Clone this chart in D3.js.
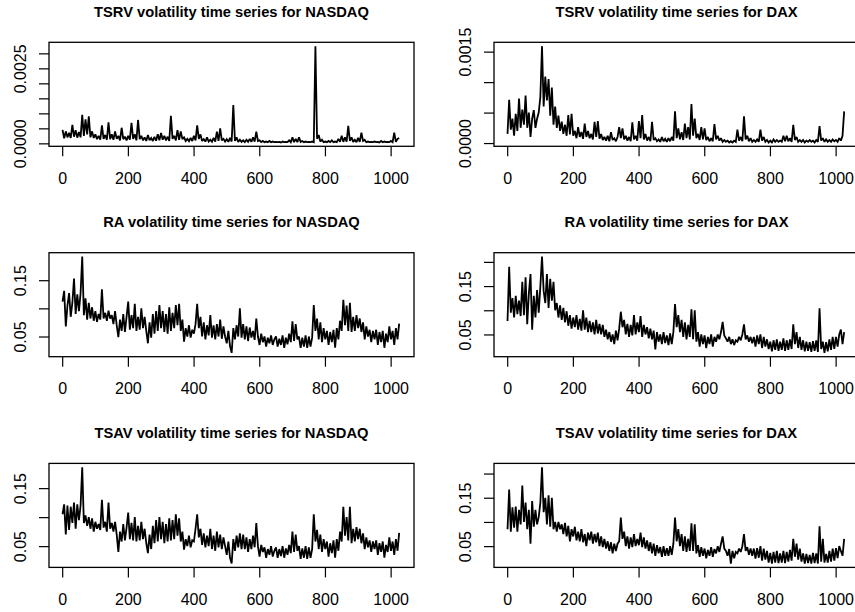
<!DOCTYPE html>
<html>
<head>
<meta charset="utf-8">
<script src="https://cdn.jsdelivr.net/npm/d3@7"></script>
<style>
  body { margin: 0; background: #fff; }
  svg { display: block; font-family: "Liberation Sans", Arial, Helvetica, sans-serif; }
</style>
</head>
<body>
<svg id="chart" width="855" height="612"></svg>
<script>
// length of the original series; values below are read every 5th observation
var nObs = 1030;
var step = 5;

var xTicks = [0, 200, 400, 600, 800, 1000];

// TSRV, NASDAQ
var tsrvNasdaq = [
  45e-5,17e-5,40e-5,20e-5,35e-5,18e-5,62e-5,22e-5,44e-5,19e-5,
  38e-5,20e-5,95e-5,25e-5,80e-5,30e-5,90e-5,20e-5,40e-5,18e-5,
  30e-5,14e-5,25e-5,12e-5,60e-5,15e-5,28e-5,12e-5,70e-5,14e-5,
  30e-5,12e-5,40e-5,15e-5,25e-5,10e-5,52e-5,14e-5,22e-5,10e-5,
  25e-5,12e-5,68e-5,15e-5,30e-5,10e-5,78e-5,14e-5,25e-5,10e-5,
  20e-5,8e-5,28e-5,10e-5,18e-5,8e-5,22e-5,9e-5,30e-5,10e-5,
  35e-5,12e-5,25e-5,10e-5,22e-5,8e-5,92e-5,15e-5,25e-5,10e-5,
  44e-5,12e-5,40e-5,14e-5,20e-5,8e-5,15e-5,7e-5,18e-5,8e-5,
  25e-5,10e-5,60e-5,15e-5,30e-5,8e-5,14e-5,6e-5,20e-5,6e-5,
  12e-5,5e-5,18e-5,6e-5,39e-5,8e-5,50e-5,10e-5,15e-5,6e-5,
  14e-5,5e-5,18e-5,6e-5,128e-5,8e-5,20e-5,5e-5,12e-5,5e-5,
  10e-5,4e-5,12e-5,5e-5,15e-5,5e-5,20e-5,6e-5,39e-5,8e-5,
  10e-5,4e-5,8e-5,4e-5,6e-5,4e-5,8e-5,4e-5,6e-5,4e-5,
  5e-5,4e-5,5e-5,3e-5,6e-5,4e-5,5e-5,4e-5,10e-5,4e-5,
  20e-5,4e-5,15e-5,4e-5,20e-5,5e-5,8e-5,4e-5,6e-5,4e-5,
  5e-5,4e-5,6e-5,4e-5,324e-5,15e-5,28e-5,6e-5,12e-5,4e-5,
  6e-5,4e-5,8e-5,4e-5,10e-5,4e-5,6e-5,4e-5,15e-5,5e-5,
  25e-5,5e-5,20e-5,6e-5,58e-5,8e-5,20e-5,5e-5,12e-5,4e-5,
  18e-5,5e-5,36e-5,8e-5,12e-5,4e-5,6e-5,4e-5,5e-5,4e-5,
  6e-5,4e-5,5e-5,3e-5,8e-5,4e-5,6e-5,4e-5,5e-5,4e-5,
  8e-5,4e-5,36e-5,5e-5,15e-5,18e-5
];

// TSRV, DAX
var tsrvDax = [
  15e-5,71e-5,22e-5,40e-5,12e-5,48e-5,20e-5,73e-5,25e-5,55e-5,
  30e-5,78e-5,25e-5,50e-5,10e-5,40e-5,54e-5,25e-5,40e-5,50e-5,
  76e-5,159e-5,60e-5,109e-5,70e-5,105e-5,45e-5,91e-5,30e-5,60e-5,
  25e-5,45e-5,20e-5,35e-5,15e-5,30e-5,12e-5,46e-5,14e-5,48e-5,
  12e-5,20e-5,8e-5,26e-5,10e-5,18e-5,7e-5,32e-5,10e-5,20e-5,
  8e-5,15e-5,6e-5,35e-5,10e-5,36e-5,7e-5,15e-5,5e-5,10e-5,
  4e-5,12e-5,3e-5,18e-5,5e-5,8e-5,3e-5,10e-5,26e-5,8e-5,
  24e-5,6e-5,12e-5,4e-5,10e-5,3e-5,34e-5,6e-5,12e-5,4e-5,
  36e-5,8e-5,46e-5,6e-5,15e-5,4e-5,10e-5,3e-5,35e-5,5e-5,
  8e-5,3e-5,6e-5,2e-5,10e-5,3e-5,7e-5,2e-5,8e-5,3e-5,
  10e-5,4e-5,52e-5,8e-5,24e-5,6e-5,18e-5,5e-5,32e-5,8e-5,
  26e-5,6e-5,64e-5,12e-5,40e-5,8e-5,15e-5,5e-5,26e-5,6e-5,
  24e-5,5e-5,10e-5,3e-5,8e-5,3e-5,31e-5,6e-5,12e-5,4e-5,
  8e-5,2e-5,5e-5,2e-5,4e-5,1e-5,3e-5,1e-5,4e-5,2e-5,
  22e-5,4e-5,10e-5,3e-5,44e-5,6e-5,12e-5,3e-5,8e-5,2e-5,
  5e-5,2e-5,6e-5,2e-5,22e-5,4e-5,10e-5,2e-5,5e-5,1e-5,
  4e-5,1e-5,6e-5,2e-5,5e-5,2e-5,4e-5,2e-5,12e-5,3e-5,
  12e-5,3e-5,8e-5,2e-5,30e-5,5e-5,10e-5,2e-5,5e-5,2e-5,
  5e-5,1e-5,4e-5,2e-5,5e-5,2e-5,4e-5,1e-5,5e-5,2e-5,
  28e-5,4e-5,8e-5,2e-5,6e-5,2e-5,5e-5,2e-5,6e-5,3e-5,
  5e-5,2e-5,8e-5,4e-5,12e-5,52e-5
];

// RA, NASDAQ
var raNasdaq = [
  0.112,0.131,0.068,0.105,0.127,0.085,0.110,0.153,0.090,0.125,
  0.095,0.127,0.192,0.088,0.118,0.080,0.110,0.082,0.102,0.078,
  0.095,0.076,0.090,0.080,0.134,0.082,0.092,0.078,0.096,0.082,
  0.088,0.072,0.095,0.070,0.049,0.080,0.060,0.090,0.058,0.085,
  0.112,0.062,0.088,0.065,0.108,0.060,0.085,0.062,0.100,0.065,
  0.085,0.060,0.038,0.075,0.048,0.090,0.055,0.095,0.060,0.106,
  0.065,0.095,0.058,0.090,0.055,0.102,0.060,0.092,0.065,0.106,
  0.070,0.108,0.060,0.080,0.041,0.065,0.050,0.070,0.048,0.062,
  0.055,0.072,0.108,0.065,0.085,0.050,0.075,0.045,0.070,0.052,
  0.088,0.048,0.070,0.045,0.072,0.050,0.080,0.046,0.068,0.050,
  0.038,0.060,0.033,0.021,0.065,0.045,0.070,0.050,0.100,0.048,
  0.072,0.045,0.068,0.042,0.066,0.048,0.060,0.044,0.082,0.050,
  0.035,0.055,0.040,0.050,0.032,0.048,0.038,0.052,0.035,0.045,
  0.050,0.032,0.046,0.035,0.052,0.030,0.048,0.036,0.055,0.040,
  0.077,0.042,0.072,0.045,0.050,0.030,0.048,0.032,0.052,0.030,
  0.050,0.032,0.048,0.106,0.060,0.082,0.045,0.075,0.040,0.065,
  0.045,0.060,0.035,0.058,0.040,0.062,0.030,0.065,0.045,0.078,
  0.060,0.115,0.070,0.105,0.060,0.110,0.058,0.085,0.060,0.088,
  0.065,0.082,0.058,0.075,0.045,0.068,0.050,0.062,0.040,0.060,
  0.045,0.062,0.035,0.058,0.040,0.060,0.030,0.055,0.040,0.068,
  0.045,0.060,0.035,0.065,0.045,0.073
];

// RA, DAX
var raDax = [
  0.078,0.190,0.095,0.125,0.085,0.130,0.092,0.120,0.088,0.159,
  0.090,0.168,0.071,0.135,0.175,0.060,0.130,0.085,0.142,0.095,
  0.150,0.211,0.140,0.115,0.175,0.105,0.165,0.120,0.159,0.100,
  0.115,0.085,0.110,0.080,0.105,0.075,0.098,0.068,0.090,0.062,
  0.085,0.065,0.090,0.060,0.082,0.058,0.100,0.060,0.085,0.055,
  0.078,0.055,0.075,0.050,0.080,0.052,0.072,0.050,0.070,0.045,
  0.060,0.040,0.055,0.035,0.050,0.030,0.058,0.038,0.062,0.097,
  0.065,0.080,0.050,0.072,0.045,0.070,0.048,0.090,0.050,0.075,
  0.055,0.088,0.045,0.070,0.050,0.065,0.042,0.062,0.040,0.058,
  0.019,0.055,0.035,0.050,0.030,0.055,0.032,0.048,0.028,0.052,
  0.030,0.055,0.113,0.065,0.090,0.055,0.080,0.045,0.075,0.040,
  0.070,0.045,0.102,0.040,0.100,0.035,0.055,0.025,0.050,0.030,
  0.048,0.022,0.045,0.030,0.050,0.025,0.045,0.035,0.050,0.040,
  0.055,0.076,0.048,0.042,0.035,0.045,0.030,0.040,0.028,0.038,
  0.035,0.045,0.038,0.050,0.071,0.040,0.048,0.035,0.045,0.032,
  0.045,0.025,0.048,0.030,0.050,0.022,0.045,0.025,0.040,0.020,
  0.035,0.015,0.038,0.018,0.040,0.016,0.035,0.018,0.042,0.016,
  0.038,0.018,0.040,0.020,0.071,0.030,0.055,0.022,0.045,0.018,
  0.038,0.015,0.035,0.016,0.034,0.014,0.036,0.016,0.038,0.014,
  0.104,0.020,0.035,0.012,0.034,0.015,0.040,0.018,0.045,0.020,
  0.045,0.025,0.050,0.060,0.030,0.055
];

// TSAV, NASDAQ
var tsavNasdaq = [
  0.105,0.122,0.070,0.120,0.078,0.118,0.090,0.125,0.080,0.122,
  0.095,0.120,0.186,0.090,0.103,0.085,0.100,0.080,0.098,0.075,
  0.092,0.080,0.088,0.078,0.130,0.082,0.092,0.075,0.125,0.080,
  0.090,0.075,0.092,0.070,0.040,0.075,0.058,0.088,0.060,0.082,
  0.108,0.062,0.090,0.060,0.100,0.058,0.085,0.060,0.092,0.062,
  0.080,0.055,0.038,0.070,0.045,0.085,0.055,0.095,0.058,0.100,
  0.062,0.092,0.055,0.088,0.058,0.098,0.060,0.095,0.062,0.105,
  0.068,0.098,0.058,0.075,0.044,0.062,0.050,0.068,0.048,0.060,
  0.058,0.080,0.105,0.065,0.080,0.052,0.072,0.048,0.068,0.050,
  0.080,0.045,0.068,0.042,0.075,0.048,0.070,0.045,0.065,0.050,
  0.035,0.058,0.030,0.020,0.062,0.042,0.068,0.048,0.072,0.045,
  0.070,0.045,0.065,0.040,0.062,0.045,0.068,0.048,0.090,0.050,
  0.032,0.052,0.040,0.048,0.030,0.045,0.035,0.050,0.032,0.042,
  0.048,0.030,0.045,0.033,0.050,0.030,0.046,0.035,0.052,0.038,
  0.075,0.040,0.070,0.042,0.050,0.028,0.046,0.030,0.050,0.028,
  0.048,0.030,0.045,0.105,0.058,0.078,0.045,0.070,0.040,0.062,
  0.045,0.058,0.032,0.055,0.038,0.060,0.030,0.062,0.042,0.075,
  0.058,0.118,0.068,0.100,0.060,0.118,0.055,0.080,0.058,0.083,
  0.062,0.080,0.055,0.072,0.045,0.065,0.048,0.060,0.040,0.058,
  0.045,0.060,0.035,0.055,0.040,0.058,0.030,0.052,0.040,0.065,
  0.042,0.058,0.035,0.062,0.042,0.073
];

// TSAV, DAX
var tsavDax = [
  0.085,0.167,0.080,0.130,0.088,0.132,0.080,0.125,0.095,0.175,
  0.100,0.140,0.085,0.125,0.055,0.143,0.090,0.125,0.095,0.110,
  0.140,0.213,0.120,0.150,0.095,0.155,0.090,0.150,0.085,0.100,
  0.080,0.100,0.085,0.095,0.075,0.098,0.070,0.092,0.060,0.085,
  0.070,0.090,0.062,0.080,0.060,0.085,0.058,0.075,0.050,0.078,
  0.062,0.080,0.055,0.075,0.058,0.078,0.050,0.070,0.048,0.065,
  0.045,0.060,0.040,0.058,0.035,0.055,0.040,0.055,0.060,0.109,
  0.065,0.080,0.050,0.070,0.045,0.068,0.048,0.075,0.050,0.065,
  0.052,0.078,0.048,0.068,0.045,0.062,0.040,0.058,0.035,0.055,
  0.030,0.052,0.035,0.048,0.028,0.050,0.030,0.046,0.030,0.050,
  0.032,0.055,0.109,0.060,0.085,0.050,0.075,0.040,0.070,0.038,
  0.065,0.040,0.097,0.040,0.095,0.035,0.052,0.028,0.048,0.030,
  0.045,0.025,0.042,0.030,0.048,0.028,0.044,0.035,0.050,0.038,
  0.055,0.070,0.045,0.040,0.030,0.044,0.014,0.040,0.025,0.038,
  0.035,0.045,0.038,0.050,0.075,0.040,0.048,0.032,0.045,0.030,
  0.045,0.024,0.046,0.026,0.050,0.020,0.045,0.022,0.040,0.016,
  0.036,0.014,0.038,0.016,0.040,0.015,0.035,0.016,0.040,0.015,
  0.038,0.018,0.042,0.020,0.065,0.028,0.055,0.022,0.045,0.018,
  0.035,0.014,0.034,0.015,0.032,0.014,0.036,0.015,0.035,0.014,
  0.091,0.018,0.065,0.016,0.034,0.016,0.040,0.018,0.045,0.020,
  0.046,0.025,0.050,0.040,0.030,0.065
];

// y ticks and which of them carry a label (R drops the ones that would overlap)
var tsrvNasdaqTicks = [0, 0.0005, 0.001, 0.0015, 0.002, 0.0025, 0.003];
var tsrvNasdaqLabels = [0, 0.0025];
var tsrvDaxTicks = [0, 0.0005, 0.001, 0.0015];
var tsrvDaxLabels = [0, 0.0015];
var raTicksNasdaq = [0.05, 0.10, 0.15];
var raTicksDax = [0.05, 0.10, 0.15, 0.20];
var pctLabels = [0.05, 0.15];

var panels = [
  { title: "TSRV volatility time series for NASDAQ", values: tsrvNasdaq, ticks: tsrvNasdaqTicks, labels: tsrvNasdaqLabels, fmt: ".4f" },
  { title: "TSRV volatility time series for DAX", values: tsrvDax, ticks: tsrvDaxTicks, labels: tsrvDaxLabels, fmt: ".4f" },
  { title: "RA volatility time series for NASDAQ", values: raNasdaq, ticks: raTicksNasdaq, labels: pctLabels, fmt: ".2f" },
  { title: "RA volatility time series for DAX", values: raDax, ticks: raTicksDax, labels: pctLabels, fmt: ".2f" },
  { title: "TSAV volatility time series for NASDAQ", values: tsavNasdaq, ticks: raTicksNasdaq, labels: pctLabels, fmt: ".2f" },
  { title: "TSAV volatility time series for DAX", values: tsavDax, ticks: raTicksDax, labels: pctLabels, fmt: ".2f" }
];

// plot boxes (R mfrow = c(3,2))
var colLeft = [49, 494];
var rowTop = [42.3, 252.7, 463.4];
var boxW = 365, boxH = 104;

var svg = d3.select("#chart");
svg.append("rect").attr("width", 855).attr("height", 612).attr("fill", "#fff");

// R pads the data range by 4% on each side
function rRange(lo, hi) {
  var pad = (hi - lo) * 0.04;
  return [lo - pad, hi + pad];
}

panels.forEach(function(p, k) {
  var left = colLeft[k % 2];
  var top = rowTop[Math.floor(k / 2)];

  var x = d3.scaleLinear().domain(rRange(1, nObs)).range([0, boxW]);
  var ext = d3.extent(p.values);
  var y = d3.scaleLinear().domain(rRange(ext[0], ext[1])).range([boxH, 0]);

  var g = svg.append("g").attr("transform", "translate(" + left + "," + top + ")");

  var line = d3.line()
    .x(function(d, i) { return x(1 + i * step); })
    .y(function(d) { return y(d); });

  g.append("path")
    .datum(p.values)
    .attr("d", line)
    .attr("fill", "none")
    .attr("stroke", "#000")
    .attr("stroke-width", 1.8)
    .attr("stroke-linejoin", "miter")
    .attr("stroke-miterlimit", 2);

  g.append("rect")
    .attr("width", boxW).attr("height", boxH)
    .attr("fill", "none").attr("stroke", "#000").attr("stroke-width", 1.3);

  // x axis
  var xa = g.append("g")
    .attr("transform", "translate(0," + boxH + ")")
    .call(d3.axisBottom(x).tickValues(xTicks).tickSize(10).tickFormat(d3.format("d")));
  xa.select(".domain").remove();
  xa.selectAll("line").attr("stroke-width", 1.2);
  xa.selectAll("text")
    .attr("y", 37.3).attr("dy", 0)
    .attr("font-size", 16).attr("font-family", null).attr("fill", "#000");

  // y axis, labels turned to read upwards
  var fmt = d3.format(p.fmt);
  var ya = g.append("g")
    .call(d3.axisLeft(y).tickValues(p.ticks).tickSize(10)
      .tickFormat(function(d) { return p.labels.indexOf(d) >= 0 ? fmt(d) : ""; }));
  ya.select(".domain").remove();
  ya.selectAll("line").attr("stroke-width", 1.2);
  ya.selectAll("text")
    .attr("transform", "rotate(-90)")
    .attr("x", 0).attr("y", -23.5).attr("dy", 0)
    .attr("text-anchor", "middle")
    .attr("font-size", 16).attr("font-family", null).attr("fill", "#000");

  g.append("text")
    .attr("x", boxW / 2).attr("y", -25.6)
    .attr("text-anchor", "middle")
    .attr("font-weight", "bold")
    .attr("font-size", 14.7)
    .text(p.title);
});
</script>
</body>
</html>
